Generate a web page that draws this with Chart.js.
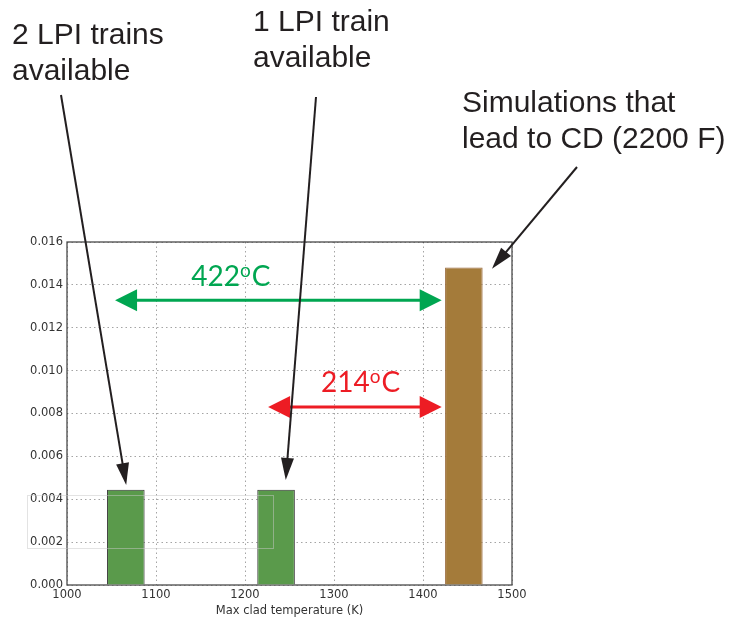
<!DOCTYPE html>
<html>
<head>
<meta charset="utf-8">
<script src="https://cdn.jsdelivr.net/npm/chart.js@4/dist/chart.umd.min.js"></script>
<style>
  html, body { margin: 0; padding: 0; background: #ffffff; }
  #wrap { width: 732px; height: 622px; }
</style>
</head>
<body>
<div id="wrap"><canvas id="c" width="732" height="622"></canvas></div>
<script>
// Histogram of maximum clad temperature (normalised), three populated bins
const binLeft   = [1045.0, 1213.8, 1424.8];   // K, left edge of each populated bin
const binWidth  = 42.2;                       // K
const density   = [0.00444, 0.00444, 0.01481];
const barFill   = ['#5a9a4b', '#5a9a4b', '#a47b3a'];
const barEdge   = ['#333333', '#333333', '#9a6a3c'];

const xTicks = [1000, 1100, 1200, 1300, 1400, 1500];
const yTicks = [0, 0.002, 0.004, 0.006, 0.008, 0.010, 0.012, 0.014, 0.016];

// Margin annotations (pixel text blocks with pointer arrows ending on bars)
const notes = [
  { lines: ['2 LPI trains', 'available'], x: 12, y: 36, from: [61, 95], to: [1066.5, 0.00466] },
  { lines: ['1 LPI train', 'available'], x: 253, y: 23, from: [316, 97], to: [1245.8, 0.00490] },
  { lines: ['Simulations that', 'lead to CD (2200 F)'], x: 462, y: 104, from: [577, 167], to: [1477.5, 0.01475] }
];

// Temperature-margin spans drawn as double-headed arrows in data units
const spans = [
  { value: '422', color: '#00a651', x0: 1054, x1: 1421, y: 0.01328, ly: 0.01443, lx: 1184 },
  { value: '214', color: '#ed1c24', x0: 1226, x1: 1421, y: 0.00830, ly: 0.00945, lx: 1330 }
];

const centers = binLeft.map(l => l + binWidth / 2);

function arrowHead(ctx, tx, ty, ang, len, half) {
  ctx.beginPath();
  ctx.moveTo(tx, ty);
  ctx.lineTo(tx - len * Math.cos(ang) + half * Math.sin(ang), ty - len * Math.sin(ang) - half * Math.cos(ang));
  ctx.lineTo(tx - len * Math.cos(ang) - half * Math.sin(ang), ty - len * Math.sin(ang) + half * Math.cos(ang));
  ctx.closePath();
  ctx.fill();
}

// "NNN", raised "o", then "C"
function degreeLabel(ctx, num, cx, cy) {
  const big = '28px Lato', small = '19px Lato';
  ctx.font = big;
  const wn = ctx.measureText(num).width, wc = ctx.measureText('C').width;
  ctx.font = small;
  const wo = ctx.measureText('o').width;
  let x = cx - (wn + wo + wc + 1) / 2;
  ctx.textAlign = 'left';
  ctx.textBaseline = 'alphabetic';
  const base = cy + 10;
  ctx.font = big;
  ctx.fillText(num, x, base);
  x += wn;
  ctx.font = small;
  ctx.fillText('o', x, base - 9);
  x += wo + 1;
  ctx.font = big;
  ctx.fillText('C', x, base);
}

const decorations = {
  id: 'decorations',
  beforeDatasetsDraw(chart) {
    const { ctx, chartArea: a } = chart;
    ctx.save();
    ctx.strokeStyle = '#4a4a4a';
    ctx.lineWidth = 1.3;
    ctx.strokeRect(a.left, a.top, a.right - a.left, a.bottom - a.top);
    ctx.restore();
  },
  afterDatasetsDraw(chart) {
    const { ctx } = chart;
    const xs = chart.scales.x, ys = chart.scales.y;
    ctx.save();
    // faint outline box over the lower-left region
    ctx.strokeStyle = 'rgba(200,200,200,0.5)';
    ctx.lineWidth = 1;
    ctx.strokeRect(27.5, 495.5, 246, 53);

    // margin spans
    spans.forEach(s => {
      const px0 = xs.getPixelForValue(s.x0), px1 = xs.getPixelForValue(s.x1);
      const py = ys.getPixelForValue(s.y);
      ctx.strokeStyle = s.color;
      ctx.fillStyle = s.color;
      ctx.lineWidth = 3;
      ctx.beginPath();
      ctx.moveTo(px0 + 15, py);
      ctx.lineTo(px1 - 15, py);
      ctx.stroke();
      arrowHead(ctx, px0, py, Math.PI, 22, 11);
      arrowHead(ctx, px1, py, 0, 22, 11);
      degreeLabel(ctx, s.value, xs.getPixelForValue(s.lx), ys.getPixelForValue(s.ly));
    });

    // pointer notes
    ctx.fillStyle = '#231f20';
    ctx.strokeStyle = '#231f20';
    notes.forEach(n => {
      ctx.font = '30px "Liberation Sans"';
      ctx.textAlign = 'left';
      ctx.textBaseline = 'middle';
      n.lines.forEach((t, i) => ctx.fillText(t, n.x, n.y + i * 36));
      const tx = xs.getPixelForValue(n.to[0]), ty = ys.getPixelForValue(n.to[1]);
      const ang = Math.atan2(ty - n.from[1], tx - n.from[0]);
      ctx.lineWidth = 2;
      ctx.beginPath();
      ctx.moveTo(n.from[0], n.from[1]);
      ctx.lineTo(tx - 14 * Math.cos(ang), ty - 14 * Math.sin(ang));
      ctx.stroke();
      arrowHead(ctx, tx, ty, ang, 22, 6.5);
    });
    ctx.restore();
  }
};

const tickFont = { family: '"DejaVu Sans"', size: 11.5 };
const gridStyle = { color: 'rgba(0,0,0,0.45)', lineWidth: 0.8, drawTicks: false };

new Chart(document.getElementById('c'), {
  type: 'bar',
  data: {
    datasets: [{
      data: centers.map((c, i) => ({ x: c, y: density[i] })),
      backgroundColor: barFill,
      borderColor: barEdge,
      borderWidth: 1,
      borderSkipped: 'bottom',
      barPercentage: 1,
      categoryPercentage: binWidth / (xTicks[1] - xTicks[0])
    }]
  },
  options: {
    responsive: false,
    animation: false,
    devicePixelRatio: 1,
    layout: { padding: { top: 242, right: 220, left: 0, bottom: 0 } },
    plugins: { legend: { display: false }, tooltip: { enabled: false } },
    scales: {
      x: {
        type: 'linear',
        offset: false,
        min: xTicks[0],
        max: xTicks[xTicks.length - 1],
        afterBuildTicks: s => { s.ticks = xTicks.map(v => ({ value: v })); },
        afterFit: s => { s.height = 37; },
        grid: Object.assign({ offset: false }, gridStyle),
        border: { display: false, dash: [1.5, 3] },
        ticks: { font: tickFont, color: '#333333', padding: 3, maxRotation: 0, autoSkip: false,
                 callback: v => String(v) },
        title: { display: true, text: 'Max clad temperature (K)', font: tickFont, color: '#333333',
                 padding: { top: 0, bottom: 4 } }
      },
      y: {
        min: yTicks[0],
        max: yTicks[yTicks.length - 1],
        afterBuildTicks: s => { s.ticks = yTicks.map(v => ({ value: v })); },
        afterFit: s => { s.width = 67; },
        grid: gridStyle,
        border: { display: false, dash: [1.5, 3] },
        ticks: { font: tickFont, color: '#333333', padding: 4, autoSkip: false,
                 callback: v => Number(v).toFixed(3) }
      }
    }
  },
  plugins: [decorations]
});
</script>
</body>
</html>
